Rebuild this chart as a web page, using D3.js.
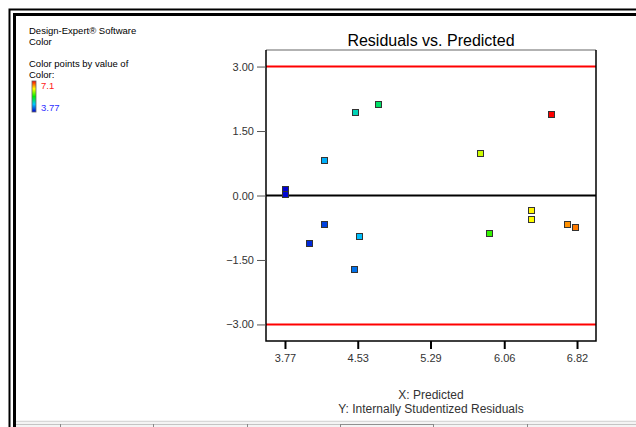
<!DOCTYPE html>
<html>
<head>
<meta charset="utf-8">
<script src="https://cdn.jsdelivr.net/npm/d3@7"></script>
<style>
  html, body { margin: 0; padding: 0; background: #fff; }
  svg { display: block; font-family: Arial, "Liberation Sans", sans-serif; }
</style>
</head>
<body>
<svg id="chart" width="636" height="427"></svg>
<script>
// Predicted values (x), internally studentized residuals (y), response used for colouring
const predicted = [3.777, 3.777, 4.034, 4.188, 4.188, 4.501, 4.507, 4.553, 4.755, 5.817, 5.908, 6.347, 6.347, 6.562, 6.726, 6.813];
const residuals = [0.12, 0.02, -1.125, -0.69, 0.81, -1.744, 1.92, -0.963, 2.10, 0.96, -0.893, -0.365, -0.567, 1.88, -0.69, -0.745];
const colorValue = [3.77, 3.80, 3.94, 4.04, 4.50, 4.24, 4.84, 4.57, 5.10, 6.10, 5.60, 6.30, 6.27, 7.10, 6.63, 6.70];

const xTickLabels = ["3.77", "4.53", "5.29", "6.06", "6.82"];
const yTickLabels = ["-3.00", "-1.50", "0.00", "1.50", "3.00"];
const limits = [-3, 3];
const colorRange = [3.77, 7.1];

const svg = d3.select("#chart");

// Window frame: double rule along the top and left edges
const frame = svg.append("g");
frame.append("path").attr("d", "M9.5,427V9.5H636").attr("fill", "none").attr("stroke", "#000").attr("stroke-width", 2);
frame.append("path").attr("d", "M14.5,427V14.5H636").attr("fill", "none").attr("stroke", "#000").attr("stroke-width", 3);

// Tab strip along the bottom
frame.append("rect").attr("x", 16).attr("y", 420).attr("width", 620).attr("height", 7).attr("fill", "#f4f4f4");
frame.append("line").attr("x1", 16).attr("x2", 636).attr("y1", 421.5).attr("y2", 421.5).attr("stroke", "#d8d8d8");
frame.append("line").attr("x1", 16).attr("x2", 636).attr("y1", 424.5).attr("y2", 424.5).attr("stroke", "#c4c4c4");
frame.append("line").attr("x1", 340).attr("x2", 433).attr("y1", 424.5).attr("y2", 424.5).attr("stroke", "#909090");
[60, 153, 247, 340, 433, 527].forEach(px => {
  frame.append("line").attr("x1", px + 0.5).attr("x2", px + 0.5).attr("y1", 424).attr("y2", 427).attr("stroke", "#888");
});

// Plot geometry
const plot = { left: 266, right: 596, top: 50, bottom: 341 };
const xMin = +xTickLabels[0], xMax = +xTickLabels[xTickLabels.length - 1];
const xPad = (xMax - xMin) * 0.065;
const x = d3.scaleLinear().domain([xMin - xPad, xMax + xPad]).range([plot.left, plot.right]);
const y = d3.scaleLinear().domain([-3.385, 3.385]).range([plot.bottom, plot.top]);

// Rainbow colour ramp for the response
const color = d3.scaleLinear()
  .domain(d3.range(5).map(i => colorRange[0] + i * (colorRange[1] - colorRange[0]) / 4))
  .range(["#0000d0", "#00c8ff", "#00f000", "#ffff00", "#ff0000"])
  .interpolate(d3.interpolateRgb);

// Reference lines
const g = svg.append("g");
limits.forEach(v => {
  g.append("line").attr("x1", plot.left).attr("x2", plot.right)
    .attr("y1", y(v)).attr("y2", y(v)).attr("stroke", "#ff0000").attr("stroke-width", 2);
});
g.append("line").attr("x1", plot.left).attr("x2", plot.right)
  .attr("y1", y(0)).attr("y2", y(0)).attr("stroke", "#000").attr("stroke-width", 2);

// Plot border: grey top, black left / right / bottom
g.append("line").attr("x1", plot.left).attr("x2", plot.right).attr("y1", plot.top).attr("y2", plot.top)
  .attr("stroke", "#999").attr("stroke-width", 1.5);
g.append("path").attr("d", `M${plot.left},${plot.top}V${plot.bottom}H${plot.right}V${plot.top}`)
  .attr("fill", "none").attr("stroke", "#000").attr("stroke-width", 1.5);

// Axes
const xAxis = d3.axisBottom(x).tickValues(xTickLabels.map(Number)).tickSize(8).tickPadding(5).tickFormat(d3.format(".2f"));
const yAxis = d3.axisLeft(y).tickValues(yTickLabels.map(Number)).tickSize(9).tickPadding(3).tickFormat(d3.format(".2f"));

const gx = svg.append("g").attr("transform", `translate(0,${plot.bottom})`).call(xAxis);
const gy = svg.append("g").attr("transform", `translate(${plot.left},0)`).call(yAxis);
[gx, gy].forEach(a => {
  a.select(".domain").remove();
  a.selectAll("text").attr("font-size", 11).attr("fill", "#333").attr("font-family", "Arial, 'Liberation Sans', sans-serif");
});
gx.selectAll(".tick line").attr("stroke", "#000").attr("stroke-width", 2);
gy.selectAll(".tick line").attr("stroke", "#555").attr("stroke-width", 1);

// Points
const pts = predicted.map((p, i) => ({ x: p, y: residuals[i], c: colorValue[i] }));
const s = 6;
svg.append("g").selectAll("rect").data(pts).join("rect")
  .attr("x", d => Math.round(x(d.x)) - s / 2 - 0.5)
  .attr("y", d => Math.round(y(d.y)) - s / 2 - 0.5)
  .attr("width", s).attr("height", s)
  .attr("fill", d => color(d.c))
  .attr("stroke", "#333").attr("stroke-width", 1);

// Title and axis captions
svg.append("text").attr("x", (plot.left + plot.right) / 2).attr("y", 46)
  .attr("text-anchor", "middle").attr("font-size", 16).attr("fill", "#000").text("Residuals vs. Predicted");
svg.append("text").attr("x", (plot.left + plot.right) / 2).attr("y", 399)
  .attr("text-anchor", "middle").attr("font-size", 12).attr("fill", "#333").text("X: Predicted");
svg.append("text").attr("x", (plot.left + plot.right) / 2).attr("y", 413)
  .attr("text-anchor", "middle").attr("font-size", 12).attr("fill", "#333").text("Y: Internally Studentized Residuals");

// Side panel legend
const info = svg.append("g").attr("font-size", 9.5).attr("fill", "#000");
info.append("text").attr("x", 29).attr("y", 34).text("Design-Expert® Software");
info.append("text").attr("x", 29).attr("y", 45).text("Color");
info.append("text").attr("x", 29).attr("y", 67).text("Color points by value of");
info.append("text").attr("x", 29).attr("y", 78).text("Color:");

const defs = svg.append("defs");
const grad = defs.append("linearGradient").attr("id", "ramp").attr("x1", 0).attr("x2", 0).attr("y1", 1).attr("y2", 0);
color.domain().forEach((v, i, arr) => {
  grad.append("stop").attr("offset", i / (arr.length - 1)).attr("stop-color", color(v));
});
svg.append("rect").attr("x", 32).attr("y", 81).attr("width", 4).attr("height", 31)
  .attr("fill", "url(#ramp)").attr("stroke", "#666").attr("stroke-width", 0.8);
svg.append("text").attr("x", 41).attr("y", 89).attr("font-size", 9.5).attr("fill", "#ff2020").text(String(colorRange[1]));
svg.append("text").attr("x", 41).attr("y", 111).attr("font-size", 9.5).attr("fill", "#3030ff").text(colorRange[0].toFixed(2));
</script>
</body>
</html>
